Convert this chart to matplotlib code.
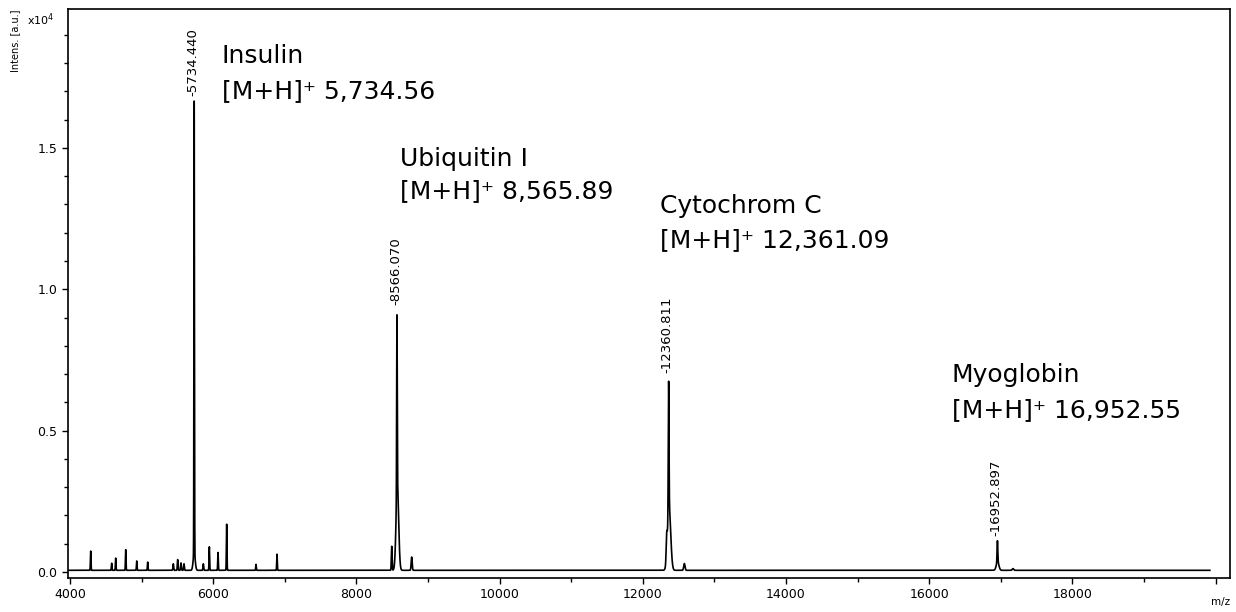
import numpy as np
import matplotlib
matplotlib.use("Agg")
import matplotlib.pyplot as plt
from matplotlib.ticker import FixedLocator, MultipleLocator, FuncFormatter

# peak components (m/z, intensity x10^4, width in Da)
comp_mz = [4289, 4582, 4638, 4778, 4932, 5085, 5443, 5504, 5550, 5592,
           5734.44, 5734.44, 5862, 5946, 6067, 6188, 6598, 6891,
           8493, 8566.07, 8572, 8772,
           12333, 12360.81, 12368, 12580,
           16952.90, 16955, 17170]
comp_height = [0.068, 0.025, 0.043, 0.073, 0.033, 0.029, 0.023, 0.038, 0.026, 0.023,
               1.60, 0.06, 0.023, 0.083, 0.063, 0.163, 0.021, 0.057,
               0.085, 0.62, 0.30, 0.047,
               0.07, 0.46, 0.22, 0.024,
               0.075, 0.03, 0.006]
comp_sigma = [4, 4, 4, 4, 4, 4, 5, 5, 5, 5,
              3.5, 14, 5, 4, 4, 4, 4, 4,
              5, 4, 18, 7,
              7, 5, 22, 9,
              5, 18, 10]
baseline_level = 0.006

# labelled peaks
label_mz = [5734.44, 8566.07, 12360.81, 16952.90]
label_top = [1.67, 0.93, 0.69, 0.113]
label_txt = ["-5734.440", "-8566.070", "-12360.811", "-16952.897"]

# protein names and reference masses
prot_names = ["Insulin", "Ubiquitin I", "Cytochrom C", "Myoglobin"]
prot_mass = ["5,734.56", "8,565.89", "12,361.09", "16,952.55"]
prot_xy = [(222, 63), (400, 166), (660, 213), (952, 382)]  # pixel, baseline of name
line_gap = [35, 32, 34, 35]

mz = np.arange(3975, 19920, 0.5)
intens = np.full_like(mz, baseline_level)
for c, h, s in zip(comp_mz, comp_height, comp_sigma):
    intens += h * np.exp(-0.5 * ((mz - c) / s) ** 2)

W, H = 1236, 612
fig = plt.figure(figsize=(W / 100, H / 100), dpi=100)
ax = fig.add_axes([68 / W, 34 / H, 1162 / W, 569 / H])
ax.plot(mz, intens, color="black", lw=1.2)

ax.set_xlim(3972, 20201)
ax.set_ylim(-0.0212, 1.9915)

ax.xaxis.set_major_locator(FixedLocator(list(range(4000, 20001, 2000))))
ax.xaxis.set_minor_locator(FixedLocator(list(range(5000, 20000, 2000))))
ax.xaxis.set_major_formatter(FuncFormatter(lambda v, p: "" if v >= 20000 else f"{int(v)}"))
ax.yaxis.set_major_locator(FixedLocator([0.0, 0.5, 1.0, 1.5]))
ax.yaxis.set_minor_locator(MultipleLocator(0.1))
ax.yaxis.set_major_formatter(FuncFormatter(lambda v, p: f"{v:.1f}"))
ax.tick_params(which="major", direction="out", length=4.5, width=1.0, labelsize=9, pad=3)
ax.tick_params(which="minor", direction="out", length=3, width=1.0)
for sp in ax.spines.values():
    sp.set_linewidth(1.2)

for x, y, t in zip(label_mz, label_top, label_txt):
    ax.annotate(t, (x, y), xytext=(-1, 3), textcoords="offset points",
                rotation=90, ha="center", va="bottom", fontsize=9.5)

for name, mass, (px, py), gap in zip(prot_names, prot_mass, prot_xy, line_gap):
    fig.text(px / W, 1 - py / H, name, fontsize=18, va="baseline", ha="left")
    fig.text(px / W, 1 - (py + gap) / H, "[M+H]\u207a " + mass, fontsize=18,
             va="baseline", ha="left")

fig.text(15 / W, 1 - 10 / H, "Intens. [a.u.]", rotation=90, ha="center", va="top", fontsize=7)
fig.text(27 / W, 1 - 25 / H, "x10$^4$", ha="left", va="baseline", fontsize=8)
fig.text(1230 / W, 1 - 605 / H, "m/z", ha="right", va="baseline", fontsize=7.5)

fig.savefig("out.png", dpi=100)
